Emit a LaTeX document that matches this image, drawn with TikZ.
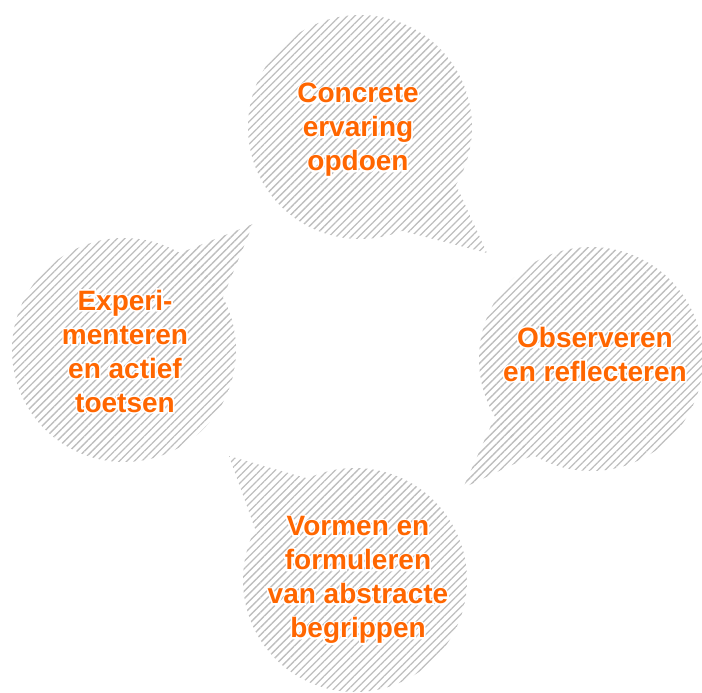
\documentclass[tikz,border=0pt]{standalone}
\usepackage{fontspec}
\setmainfont{Liberation Sans}
\usetikzlibrary{patterns.meta,calc}
\definecolor{txtorange}{RGB}{255,102,0}
\definecolor{hatchgray}{RGB}{190,190,190}
\tikzset{
  hatch/.style={pattern={Lines[angle=45,distance=5.3pt,line width=1.3pt]},pattern color=hatchgray},
  bubbletext/.style={font=\bfseries\fontsize{28}{34}\selectfont, align=center, text=txtorange, inner sep=0pt},
  halotext/.style={bubbletext, text=white},
}
\newcommand\halolabel[3]{% name, position, text
  \node[halotext] (#1h) at #2 {\special{pdf:literal direct 2 Tr 3.2 w 1 1 1 RG}#3\special{pdf:literal direct 0 Tr 0.4 w}};
  \node[bubbletext] (#1) at #2 {#3};
}
\begin{document}
\begin{tikzpicture}[x=1pt,y=-1pt]
\useasboundingbox (0,0) rectangle (702,693);
% top bubble
\coordinate (c1) at (360,127);
\coordinate (t1) at (487,253);
\fill[hatch] (c1) circle[radius=112];
\fill[hatch] (t1) -- ($(c1)+(31:112)$) -- ($(c1)+(68:112)$) -- cycle;
% right bubble
\coordinate (c2) at (591,359);
\coordinate (t2) at (463,488);
\fill[hatch] (c2) circle[radius=112];
\fill[hatch] (t2) -- ($(c2)+(121:112)$) -- ($(c2)+(149:112)$) -- cycle;
% bottom bubble
\coordinate (c3) at (355,580);
\coordinate (t3) at (229,456);
\fill[hatch] (c3) circle[radius=112];
\fill[hatch] (t3) -- ($(c3)+(207:112)$) -- ($(c3)+(245:112)$) -- cycle;
% left bubble
\coordinate (c4) at (124,350);
\coordinate (t4) at (253,224);
\fill[hatch] (c4) circle[radius=112];
\fill[hatch] (t4) -- ($(c4)+(-28:112)$) -- ($(c4)+(-60:112)$) -- cycle;
% labels
\halolabel{n1}{(358,130)}{Concrete\\ervaring\\opdoen}
\halolabel{n2}{(595,354)}{Observeren\\en reflecteren}
\halolabel{n3}{(358,580)}{Vormen en\\formuleren\\van abstracte\\begrippen}
\halolabel{n4}{(125,351)}{Experi-\\menteren\\en actief\\toetsen}
\end{tikzpicture}
\end{document}
